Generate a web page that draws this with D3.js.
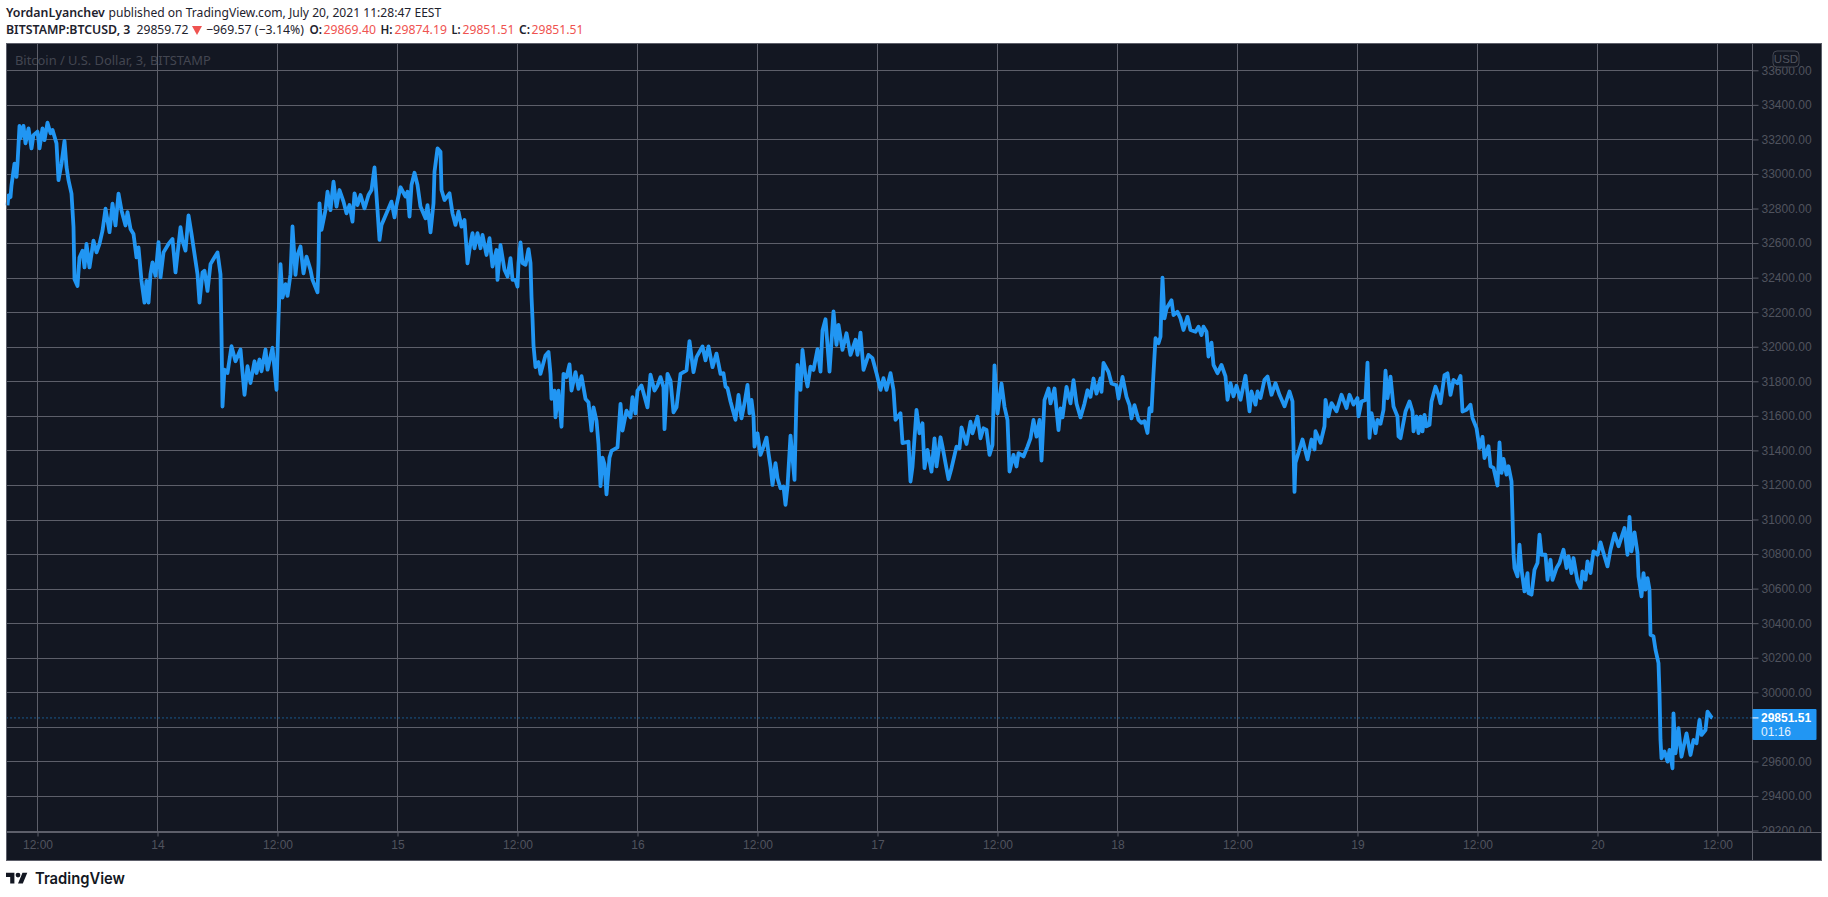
<!DOCTYPE html>
<html>
<head>
<meta charset="utf-8">
<script src="https://cdn.jsdelivr.net/npm/d3@7"></script>
<style>
  html, body { margin: 0; padding: 0; background: #fff; }
  svg { display: block; }
</style>
</head>
<body>
<svg id="chart"></svg>
<script>
// hours since 13 July 00:00
const hours = [
  9.0,9.1,9.3,9.4,9.7,9.9,10.0,10.2,10.3,10.6,
  10.8,11.1,11.4,11.6,12.0,12.2,12.5,12.7,13.0,13.3,
  13.5,13.9,14.1,14.4,14.7,14.9,15.1,15.4,15.6,15.7,
  16.0,16.2,16.5,16.7,16.9,17.2,17.6,17.9,18.2,18.5,
  18.8,19.2,19.5,19.8,20.1,20.4,20.8,21.0,21.3,21.6,
  21.9,22.1,22.4,22.7,22.9,23.1,23.3,23.5,23.8,24.1,
  24.3,24.6,25.1,25.5,25.8,26.3,26.5,26.8,27.1,27.4,
  27.8,28.0,28.2,28.5,28.7,29.0,29.3,29.6,30.0,30.3,
  30.4,30.5,30.7,31.0,31.4,31.8,32.3,32.7,33.0,33.3,
  33.7,33.9,34.2,34.4,34.8,35.0,35.5,35.9,36.1,36.3,
  36.5,36.8,37.0,37.3,37.5,37.8,38.0,38.3,38.6,38.9,
  39.3,39.5,40.0,40.1,40.2,40.4,40.8,41.0,41.3,41.6,
  41.9,42.2,42.6,42.9,43.2,43.5,43.7,44.0,44.3,44.7,
  45.1,45.4,45.7,46.0,46.2,46.4,46.9,47.4,47.7,47.9,
  48.3,48.8,49.0,49.2,49.4,49.7,50.0,50.3,50.8,51.0,
  51.3,51.6,51.7,52.0,52.3,52.4,52.7,53.2,53.5,53.8,
  54.1,54.4,54.7,55.0,55.3,55.5,55.7,56.0,56.3,56.5,
  56.9,57.2,57.5,57.9,58.0,58.3,58.7,59.0,59.3,59.5,
  59.8,60.0,60.1,60.3,60.5,60.8,61.1,61.3,61.4,61.5,
  61.6,61.8,62.1,62.3,62.8,63.1,63.3,63.4,63.7,63.8,
  64.1,64.4,64.6,64.9,65.2,65.4,65.8,66.1,66.4,66.8,
  67.1,67.4,67.6,67.9,68.1,68.3,68.5,68.7,68.9,69.2,
  69.4,70.0,70.3,70.5,70.9,71.3,71.5,71.8,72.0,72.4,
  73.0,73.3,73.7,74.0,74.3,74.6,74.7,75.0,75.3,75.6,
  75.9,76.3,76.9,77.2,77.6,77.9,78.5,78.8,79.1,79.5,
  79.9,80.3,80.6,80.8,81.0,81.3,81.8,82.1,82.4,82.7,
  83.0,83.2,83.4,83.6,83.7,84.0,84.3,84.6,84.9,85.1,
  85.3,85.5,85.8,86.0,86.3,86.6,86.8,87.0,87.3,87.7,
  87.9,88.0,88.3,88.5,88.8,89.0,89.3,89.6,90.0,90.3,
  90.5,90.8,91.2,91.6,91.9,92.1,92.5,92.9,93.3,93.8,
  94.0,94.3,94.6,95.1,95.5,95.9,96.3,96.6,96.9,97.3,
  97.6,97.8,98.3,98.5,99.1,99.3,99.5,99.9,100.2,100.5,
  100.7,101.0,101.4,101.7,101.9,102.3,102.5,102.8,103.1,103.4,
  103.9,104.2,104.4,104.9,105.3,105.5,106.0,106.3,106.6,106.9,
  107.2,107.5,107.7,108.0,108.4,108.7,109.0,109.2,109.6,109.9,
  110.1,110.6,111.0,111.3,111.6,111.9,112.2,112.4,112.7,113.1,
  113.3,113.7,114.1,114.3,114.5,114.9,115.3,115.6,115.9,116.3,
  116.7,117.0,117.3,117.6,117.9,118.3,118.4,118.6,119.1,119.4,
  119.9,120.1,120.5,120.9,121.2,121.4,121.7,122.1,122.4,122.7,
  123.0,123.2,123.4,123.6,123.8,124.1,124.3,124.4,124.5,124.7,
  124.9,125.4,125.6,126.0,126.3,126.6,127.0,127.3,127.8,128.1,
  128.4,128.6,128.9,129.1,129.4,129.6,130.0,130.4,130.8,131.0,
  131.3,131.6,131.9,132.3,132.8,133.2,133.4,133.8,134.0,134.3,
  134.7,135.0,135.4,135.8,136.2,136.7,137.2,137.5,137.7,137.8,
  138.1,138.5,139.0,139.4,139.7,139.8,140.3,140.7,140.8,141.1,
  141.4,141.9,142.4,142.9,143.2,143.6,144.0,144.1,144.4,144.8,
  145.0,145.2,145.4,145.8,146.0,146.3,146.6,146.8,147.0,147.3,
  147.6,148.0,148.1,148.3,148.8,149.2,149.5,149.6,149.9,150.1,
  150.3,150.5,150.7,150.9,151.2,151.4,151.8,152.1,152.3,152.7,
  153.0,153.3,153.6,154.0,154.3,154.5,154.9,155.3,155.5,155.9,
  156.2,156.5,156.7,157.1,157.3,157.6,158.0,158.2,158.4,158.6,
  158.9,159.1,159.4,159.5,159.6,159.7,160.0,160.2,160.4,160.7,
  161.0,161.1,161.4,161.7,162.0,162.2,162.4,162.8,163.0,163.3,
  163.5,163.9,164.2,164.6,164.9,165.1,165.4,165.6,166.0,166.3,
  166.5,166.8,167.0,167.3,167.6,168.0,168.3,168.6,169.0,169.3,
  169.7,170.1,170.7,171.0,171.2,171.4,171.7,172.0,172.1,172.3,
  172.4,172.6,172.8,173.0,173.2,173.3,173.6,173.8,174.1,174.2,
  174.3,174.4,174.7,175.0,175.2,175.5,175.6,175.8,176.1,176.4,
  176.9,177.3,177.6,177.9,178.2,178.4,178.8,179.0,179.4,179.5
];
const prices = [
  32818,32876,32866,32934,33060,32983,33060,33278,33206,33278,
  33177,33264,33148,33225,33245,33148,33264,33196,33297,33235,
  33255,33177,32964,33060,33192,33041,32964,32886,32692,32391,
  32352,32517,32556,32459,32595,32459,32614,32546,32595,32672,
  32799,32663,32828,32702,32886,32789,32702,32779,32682,32653,
  32517,32575,32381,32255,32381,32255,32420,32488,32411,32605,
  32401,32546,32595,32624,32430,32692,32614,32556,32760,32653,
  32498,32420,32255,32430,32440,32323,32478,32508,32546,32420,
  32071,31654,31867,31848,32003,31916,31984,31722,31887,31790,
  31916,31848,31926,31858,31984,31867,31994,31751,32168,32478,
  32284,32362,32294,32420,32696,32416,32531,32580,32425,32522,
  32445,32387,32315,32483,32830,32676,32791,32897,32791,32955,
  32811,32907,32840,32772,32820,32724,32888,32820,32878,32801,
  32878,32907,33038,32791,32618,32705,32772,32840,32749,32820,
  32923,32869,32897,32753,32936,33007,32936,32811,32743,32820,
  32662,32830,33013,33148,33129,32907,32849,32888,32772,32705,
  32782,32695,32734,32483,32599,32657,32570,32657,32570,32647,
  32531,32628,32464,32560,32387,32589,32445,32406,32513,32387,
  32387,32348,32484,32604,32484,32474,32565,32484,32290,32164,
  32008,31882,31911,31843,31950,31970,31843,31698,31746,31591,
  31746,31537,31843,31824,31898,31746,31853,31756,31830,31698,
  31679,31514,31649,31572,31436,31193,31358,31320,31145,31358,
  31397,31417,31669,31514,31630,31591,31708,31614,31746,31776,
  31649,31838,31746,31776,31824,31766,31523,31843,31805,31620,
  31649,31843,31863,32033,31853,31940,32002,31921,32002,31882,
  31960,31843,31847,31770,31760,31683,31577,31721,31586,31673,
  31779,31615,31692,31596,31422,31499,31374,31422,31474,31384,
  31306,31200,31326,31239,31181,31191,31085,31191,31486,31229,
  31712,31895,31750,31982,31828,31770,31885,31866,31986,31856,
  32094,32159,31856,32204,32011,32127,31982,32078,31953,32040,
  31953,32082,31866,31953,31934,31847,31750,31818,31750,31847,
  31750,31577,31615,31442,31451,31220,31306,31634,31499,31557,
  31297,31403,31277,31470,31307,31476,31422,31326,31234,31297,
  31422,31412,31533,31437,31566,31499,31595,31470,31528,31518,
  31374,31432,31892,31614,31787,31652,31576,31278,31374,31307,
  31384,31365,31422,31470,31576,31480,31576,31341,31691,31758,
  31672,31758,31518,31643,31591,31768,31672,31806,31672,31591,
  31672,31748,31710,31816,31729,31816,31739,31906,31854,31787,
  31777,31700,31825,31710,31662,31585,31662,31576,31559,31569,
  31501,31645,31626,31847,32049,32020,32058,32250,32400,32164,
  32221,32269,32183,32202,32164,32097,32173,32097,32087,32116,
  32068,32116,32087,31943,32024,31895,31847,31895,31828,31693,
  31789,31713,31774,31693,31832,31626,31741,31665,31741,31703,
  31809,31828,31722,31789,31722,31655,31741,31684,31160,31329,
  31386,31463,31348,31463,31405,31511,31444,31540,31693,31597,
  31674,31626,31722,31645,31722,31665,31703,31597,31683,31692,
  31908,31472,31616,31500,31577,31554,31635,31861,31702,31827,
  31654,31596,31481,31471,31625,31683,31625,31510,31596,31500,
  31596,31510,31606,31539,31548,31683,31769,31721,31673,31836,
  31846,31721,31808,31789,31831,31625,31635,31664,31587,31529,
  31414,31478,31356,31424,31308,31299,31197,31447,31270,31351,
  31260,31308,31221,31018,30806,30719,30671,30854,30709,30584,
  30690,30574,30565,30709,30748,30912,30796,30796,30651,30767,
  30651,30719,30748,30825,30719,30787,30690,30777,30642,30603,
  30700,30651,30758,30690,30816,30796,30868,30806,30729,30825,
  30918,30845,30951,30796,31015,30816,30926,30806,30671,30594,
  30555,30690,30594,30661,30594,30333,30323,30246,30169,29994,
  29724,29618,29657,29599,29667,29560,29878,29647,29792,29627,
  29762,29637,29724,29705,29840,29753,29782,29888,29855,29852
];

const priceTicks = [33600,33400,33200,33000,32800,32600,32400,32200,32000,31800,31600,31400,31200,31000,30800,30600,30400,30200,30000,29800,29600,29400,29200];
const timeTicks = [12,24,36,48,60,72,84,96,108,120,132,144,156,168,180];
const timeLabels = ["12:00","14","12:00","15","12:00","16","12:00","17","12:00","18","12:00","19","12:00","20","12:00"];
const lastPrice = 29851.51;

const width = 1828;
const height = 897;
const frame = { left: 6.5, right: 1821.5, top: 43.5, bottom: 860.5 };
const axisX = 1752.5;
const axisY = 832.5;

const bg = "#131722";
const gridColor = "#5d5f6a";
const labelColor = "#50535e";
const lineColor = "#2196f3";
const red = "#ef5350";
const uiFont = "'Noto Sans', 'Open Sans', sans-serif";

const x = d3.scaleLinear().domain([12, 180]).range([37.5, 1717.5]);
const y = d3.scaleLinear().domain([29200, 33600]).range([830.5, 70.3]);

const svg = d3.select("#chart").attr("width", width).attr("height", height)
  .attr("viewBox", [0, 0, width, height]);

svg.append("rect")
  .attr("x", frame.left).attr("y", frame.top)
  .attr("width", frame.right - frame.left).attr("height", frame.bottom - frame.top)
  .attr("fill", bg);

// header text, squeezed to the measured widths
const header = (txt, xa, xb, yb, fill, bold) => {
  const t = svg.append("text")
    .style("font", `${bold ? 600 : 400} 12.5px ${uiFont}`)
    .attr("fill", fill).text(txt);
  const k = (xb - xa) / t.node().getComputedTextLength();
  t.attr("transform", `translate(${xa},${yb}) scale(${k},1)`);
  return t;
};

header("YordanLyanchev", 6, 105, 17, "#1e222d", true);
header("published on TradingView.com, July 20, 2021 11:28:47 EEST", 108.5, 441.5, 17, "#1e222d", false);
header("BITSTAMP:BTCUSD, 3", 6, 130.5, 34, "#1e222d", true);
header("29859.72", 136.5, 188.5, 34, "#1e222d", false);
svg.append("path").attr("d", "M192,26L202,26L197,35Z").attr("fill", red);
header("\u2212969.57 (\u22123.14%)", 206, 304, 34, "#1e222d", false);
const ohlcNames = ["O:", "H:", "L:", "C:"];
const ohlcValues = ["29869.40", "29874.19", "29851.51", "29851.51"];
const ohlcStart = [[309.5, 322, 323.5, 376], [380.5, 392.5, 394.5, 447], [451.5, 460.5, 462.5, 514.5], [519, 530, 531.5, 583.5]];
ohlcNames.forEach((n, i) => {
  const p = ohlcStart[i];
  header(n, p[0], p[1], 34, "#1e222d", true);
  header(ohlcValues[i], p[2], p[3], 34, red, false);
});

// watermark sits under the grid
header("Bitcoin / U.S. Dollar, 3, BITSTAMP", 15, 211, 65, "#434651", false);

// grid
svg.append("g").selectAll("line").data(priceTicks).join("line")
  .attr("x1", frame.left).attr("x2", axisX)
  .attr("y1", (d) => Math.round(y(d)) + 0.5).attr("y2", (d) => Math.round(y(d)) + 0.5)
  .attr("stroke", gridColor);
svg.append("g").selectAll("line").data(timeTicks).join("line")
  .attr("x1", (d) => x(d)).attr("x2", (d) => x(d))
  .attr("y1", frame.top).attr("y2", axisY)
  .attr("stroke", gridColor);

// dotted last price line
svg.append("line")
  .attr("x1", frame.left).attr("x2", axisX)
  .attr("y1", y(lastPrice)).attr("y2", y(lastPrice))
  .attr("stroke", lineColor).attr("stroke-dasharray", "1,3");

const line = d3.line().x((d) => x(d)).y((d, i) => y(prices[i]));
svg.append("path")
  .attr("d", line(hours))
  .attr("fill", "none")
  .attr("stroke", lineColor)
  .attr("stroke-width", 3.8)
  .attr("stroke-linejoin", "round");

// price axis, labels get cut at the bottom of the pane
svg.append("clipPath").attr("id", "priceClip").append("rect")
  .attr("x", axisX).attr("y", frame.top).attr("width", frame.right - axisX).attr("height", axisY - frame.top);

const yAxis = d3.axisRight(y).tickValues(priceTicks).tickFormat(d3.format(".2f")).tickSize(6).tickPadding(3);
svg.append("g")
  .attr("clip-path", "url(#priceClip)")
  .append("g")
  .attr("transform", `translate(${axisX},0)`)
  .call(yAxis)
  .call((g) => g.select(".domain").remove())
  .call((g) => g.selectAll("line").attr("stroke", gridColor))
  .call((g) => g.selectAll("text")
    .attr("fill", labelColor)
    .style("font", "400 12px 'Liberation Sans', sans-serif"))
  // the last price tag covers its neighbour
  .call((g) => g.selectAll("text").filter((d) => Math.abs(y(d) - y(lastPrice)) < 15).remove());

const xAxis = d3.axisBottom(x).tickValues(timeTicks)
  .tickFormat((d, i) => timeLabels[i]).tickSize(4).tickPadding(4);
svg.append("g")
  .attr("transform", `translate(0,${axisY})`)
  .call(xAxis)
  .call((g) => g.select(".domain").remove())
  .call((g) => g.selectAll("line").attr("stroke", gridColor))
  .call((g) => g.selectAll("text")
    .attr("fill", labelColor)
    .style("font", "400 12px 'Liberation Sans', sans-serif"));

// pane borders
svg.append("line").attr("x1", frame.left).attr("x2", frame.right).attr("y1", axisY).attr("y2", axisY).attr("stroke", gridColor);
svg.append("line").attr("x1", axisX).attr("x2", axisX).attr("y1", frame.top).attr("y2", frame.bottom).attr("stroke", gridColor);
svg.append("rect")
  .attr("x", frame.left).attr("y", frame.top)
  .attr("width", frame.right - frame.left).attr("height", frame.bottom - frame.top)
  .attr("fill", "none").attr("stroke", gridColor);

// USD badge
svg.append("rect")
  .attr("x", 1773).attr("y", 51).attr("width", 26).attr("height", 16).attr("rx", 4)
  .attr("fill", bg).attr("stroke", "#434651");
svg.append("text")
  .attr("x", 1786).attr("y", 63).attr("text-anchor", "middle")
  .style("font", "400 11.5px 'Liberation Sans', sans-serif")
  .attr("fill", labelColor).text("USD");

// last price tag
svg.append("rect")
  .attr("x", axisX).attr("y", 709).attr("width", 64).attr("height", 31).attr("rx", 1)
  .attr("fill", lineColor);
svg.append("line")
  .attr("x1", axisX).attr("x2", axisX + 6)
  .attr("y1", y(lastPrice)).attr("y2", y(lastPrice)).attr("stroke", "#fff");
svg.append("text")
  .attr("x", 1761).attr("y", 721.5)
  .style("font", "700 12px 'Liberation Sans', sans-serif")
  .attr("fill", "#fff").text(d3.format(".2f")(lastPrice));
svg.append("text")
  .attr("x", 1761).attr("y", 736)
  .style("font", "400 12px 'Liberation Sans', sans-serif")
  .attr("fill", "#e3f2fd").text("01:16");

// footer logo
const logo = svg.append("g").attr("transform", "translate(6,870.3) scale(0.6)").attr("fill", "#131722");
logo.append("path").attr("d", "M14 22H7V11H0V4h14v18zM28 22h-8l7.5-18h8L28 22z");
logo.append("circle").attr("cx", 20).attr("cy", 8).attr("r", 4);
const brand = svg.append("text")
  .style("font", "600 16px Inter, sans-serif")
  .attr("fill", "#131722").text("TradingView");
brand.attr("transform", `translate(35,883.5) scale(${90 / brand.node().getComputedTextLength()},1)`);
</script>
</body>
</html>
